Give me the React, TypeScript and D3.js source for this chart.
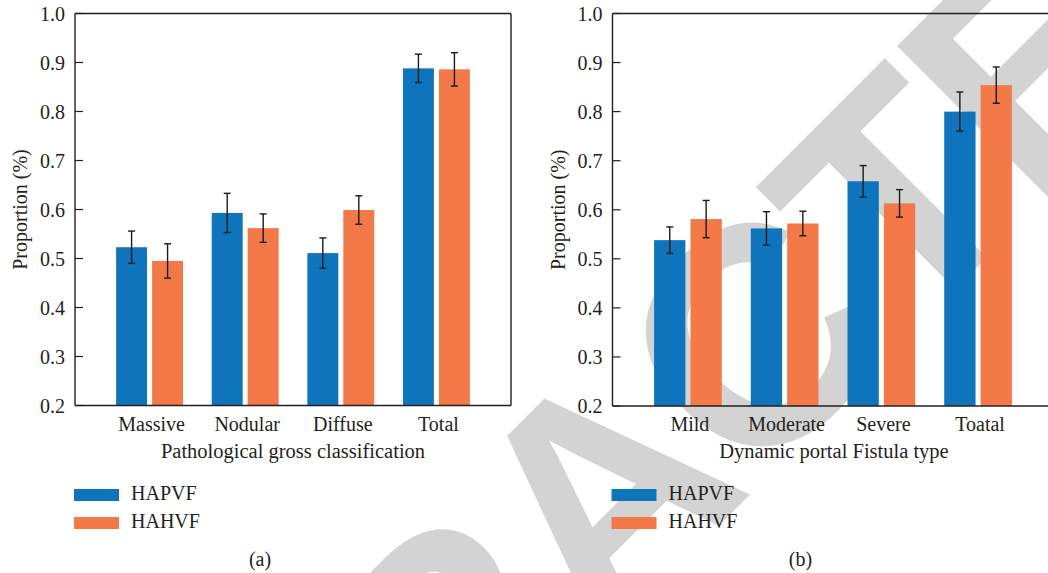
import React from 'react';
import * as d3 from 'd3';

const series = ['HAPVF', 'HAHVF'];
const colors = ['#0e74bb', '#f37a48'];

const catsA = ['Massive', 'Nodular', 'Diffuse', 'Total'];
const hapvfA = [0.523, 0.593, 0.511, 0.888];
const hahvfA = [0.495, 0.562, 0.599, 0.886];
const errHapvfA = [0.033, 0.04, 0.031, 0.029];
const errHahvfA = [0.035, 0.029, 0.029, 0.034];

const catsB = ['Mild', 'Moderate', 'Severe', 'Toatal'];
const hapvfB = [0.538, 0.562, 0.658, 0.800];
const hahvfB = [0.581, 0.572, 0.613, 0.854];
const errHapvfB = [0.027, 0.034, 0.032, 0.040];
const errHahvfB = [0.038, 0.025, 0.028, 0.037];

const yTicks = [0.2, 0.3, 0.4, 0.5, 0.6, 0.7, 0.8, 0.9, 1.0];

const FONT = '"Liberation Serif", "Times New Roman", serif';
const INK = '#231f20';
const FS = 20;

interface PanelProps {
  left: number;
  right: number;
  top: number;
  bottom: number;
  cats: string[];
  vals: number[][];
  errs: number[][];
  xTitle: string;
  titleX: number;
  tag: string;
  tagX: number;
  boxed: boolean;
}

const Panel: React.FC<PanelProps> = ({ left, right, top, bottom, cats, vals, errs, xTitle, titleX, tag, tagX, boxed }) => {
  const y = d3.scaleLinear().domain([0.2, 1.0]).range([bottom, top]);
  const x0 = d3.scaleBand<string>().domain(cats).range([left, right]).paddingInner(0.3).paddingOuter(0.43);
  const x1 = d3.scaleBand<string>().domain(series).range([0, x0.bandwidth()]).paddingInner(0.14);

  return (
    <g>
      {/* bars + error bars */}
      {cats.map((c, i) => (
        <g key={c} transform={`translate(${x0(c)},0)`}>
          {series.map((s, k) => {
            const v = vals[k][i];
            const e = errs[k][i];
            const bx = x1(s)!;
            const mid = bx + x1.bandwidth() / 2;
            return (
              <g key={s}>
                <rect x={bx} y={y(v)} width={x1.bandwidth()} height={bottom - y(v)} fill={colors[k]} />
                <line x1={mid} x2={mid} y1={y(v + e)} y2={y(v - e)} stroke="#1a1a1a" strokeWidth={1.4} />
                <line x1={mid - 3.5} x2={mid + 3.5} y1={y(v + e)} y2={y(v + e)} stroke="#1a1a1a" strokeWidth={1.4} />
                <line x1={mid - 3.5} x2={mid + 3.5} y1={y(v - e)} y2={y(v - e)} stroke="#1a1a1a" strokeWidth={1.4} />
              </g>
            );
          })}
        </g>
      ))}

      {/* frame */}
      <line x1={left} x2={left} y1={top} y2={bottom} stroke={INK} strokeWidth={1.4} />
      <line x1={left} x2={right} y1={bottom} y2={bottom} stroke={INK} strokeWidth={1.6} />
      <line x1={left} x2={right} y1={top} y2={top} stroke={INK} strokeWidth={1.4} />
      {boxed && <line x1={right} x2={right} y1={top} y2={bottom} stroke={INK} strokeWidth={1.4} />}

      {/* y ticks (inward) */}
      {yTicks.map(t => (
        <g key={t}>
          <line x1={left} x2={left + 8} y1={y(t)} y2={y(t)} stroke={INK} strokeWidth={1.2} />
          <text x={left - 10} y={y(t)} dy="0.35em" textAnchor="end" fontSize={FS} fill={INK} fontFamily={FONT}>
            {d3.format('.1f')(t)}
          </text>
        </g>
      ))}
      <text transform={`translate(${left - 55},${(top + bottom) / 2}) rotate(-90)`} textAnchor="middle" dy="0.35em"
        fontSize={FS} fill={INK} fontFamily={FONT}>Proportion (%)</text>

      {/* x labels */}
      {cats.map(c => (
        <text key={c} x={x0(c)! + x0.bandwidth() / 2 + 2} y={bottom + 25} textAnchor="middle" fontSize={FS} fill={INK} fontFamily={FONT}>{c}</text>
      ))}
      <text x={titleX} y={bottom + 52} textAnchor="middle" fontSize={FS + 0.5} fill={INK} fontFamily={FONT}>{xTitle}</text>

      {/* legend */}
      {series.map((s, k) => (
        <g key={s} transform={`translate(${left - 1},${489 + k * 28})`}>
          <rect x={0} y={0} width={45} height={12} fill={colors[k]} />
          <text x={57} y={11} fontSize={FS} fill={INK} fontFamily={FONT}>{s}</text>
        </g>
      ))}

      <text x={tagX} y={566} textAnchor="middle" fontSize={FS} fill={INK} fontFamily={FONT}>{tag}</text>
    </g>
  );
};

export default function App() {
  return (
    <div style={{ position: 'absolute', left: 0, top: 0 }}>
      <svg width={1048} height={573} viewBox="0 0 1048 573" style={{ display: 'block', background: '#fff' }}>
        {/* retraction watermark, behind the charts */}
        <text transform="translate(20.5,1224) rotate(-45)" fontSize={310} fontWeight="bold" letterSpacing={-7}
          fontFamily='"Liberation Sans", Arial, sans-serif' fill="#d3d3d3">RETRACTED</text>

        <Panel left={75} right={511} top={13.5} bottom={405.5} cats={catsA}
          vals={[hapvfA, hahvfA]} errs={[errHapvfA, errHahvfA]}
          xTitle="Pathological gross classification" titleX={293} tag="(a)" tagX={260} boxed />
        <Panel left={612.5} right={1053.5} top={13.5} bottom={406} cats={catsB}
          vals={[hapvfB, hahvfB]} errs={[errHapvfB, errHahvfB]}
          xTitle="Dynamic portal Fistula type" titleX={834} tag="(b)" tagX={800.5} boxed={false} />
      </svg>
    </div>
  );
}
